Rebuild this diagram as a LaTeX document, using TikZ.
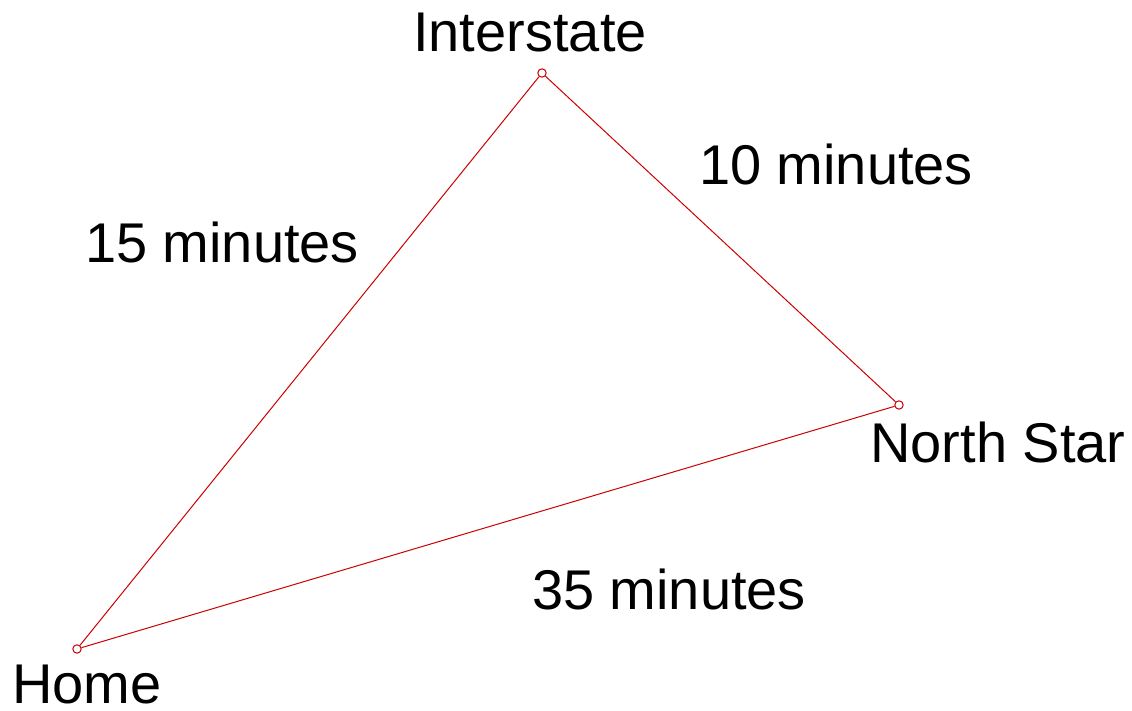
\documentclass[tikz,border=0pt]{standalone}
\usepackage{fontspec}
\setmainfont{Liberation Sans}
\definecolor{roadred}{RGB}{204,0,0}
\begin{document}
\begin{tikzpicture}
    %Drive times
    	[x=0.5pt,y=-0.5pt,
    	 town/.style={circle,draw=roadred,fill=white,line width=0.5pt,inner sep=0pt,minimum size=4.2pt},
    	 road/.style={roadred,line width=0.5pt},
    	 lbl/.style={anchor=base,inner sep=0pt,font=\fontsize{28}{33}\selectfont}]
    \useasboundingbox (0,0) rectangle (1132,711);
    %the towns
    \node[town] (home)       at (77,649) {};
    \node[town] (interstate) at (542,73) {};
    \node[town] (northstar)  at (899,405) {};

    \node[lbl] (homelbl)       at (87,704)  {Home};
    \node[lbl] (interstatelbl) at (530,52)  {Interstate};
    \node[lbl] (northstarlbl)  at (998,463) {North Star};

    %draw the roads
    \draw[road] (home) -- (interstate);
    \draw[road] (interstate) -- (northstar);
    \draw[road] (northstar) -- (home);

    % times
    \node[lbl] (hi) at (222,263) {15 minutes}; % home-interstate
    \node[lbl] (in) at (836,185) {10 minutes}; % interstate-north star
    \node[lbl] (nh) at (669,610) {35 minutes}; % north star-home
\end{tikzpicture}
\end{document}
